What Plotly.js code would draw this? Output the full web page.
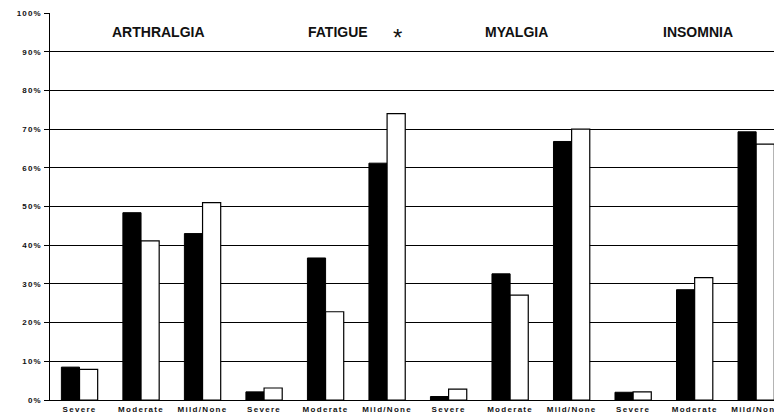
<!DOCTYPE html>
<html><head><meta charset="utf-8">
<script src="https://cdn.plot.ly/plotly-3.0.1.min.js"></script>
<style>html,body{margin:0;padding:0;background:#fff}#chart{width:774px;height:417px}
#chart .xtick text{letter-spacing:1.3px}
#chart .ytick text{letter-spacing:1.2px}
</style>
</head><body><div id="chart"></div>
<script>
const categories = ["Severe","Moderate","Mild/None","Severe","Moderate","Mild/None","Severe","Moderate","Mild/None","Severe","Moderate","Mild/None"];
const seriesBlack = [8.5, 48.4, 43.0, 2.1, 36.7, 61.2, 0.9, 32.6, 66.8, 2.0, 28.5, 69.3];
const seriesWhite = [7.9, 41.1, 51.0, 3.1, 22.8, 74.0, 2.8, 27.1, 70.0, 2.1, 31.6, 66.1];
const groupTitles = ["ARTHRALGIA","FATIGUE","MYALGIA","INSOMNIA"];
const yTickVals = [0,10,20,30,40,50,60,70,80,90,100];
const yTickText = ["0%","10%","20%","30%","40%","50%","60%","70%","80%","90%","100%"];

const xIdx = categories.map((c,i)=>i);
const fontFam = '"Liberation Sans", Arial, sans-serif';

const traces = [
  {type:'bar', x:xIdx, y:seriesBlack, name:'A',
   marker:{color:'#000', line:{color:'#000', width:1}}},
  {type:'bar', x:xIdx, y:seriesWhite, name:'B',
   marker:{color:'#fff', line:{color:'#000', width:1.2}}}
];

const titleX = [1.28, 4.2, 7.1, 10.05];
const annotations = groupTitles.map((t,i)=>({
  x:titleX[i], y:95.2, xref:'x', yref:'y', text:'<b>'+t+'</b>', showarrow:false,
  font:{family:fontFam, size:14, color:'#111'}
}));
annotations.push({x:5.17, y:93.6, xref:'x', yref:'y', text:'*', showarrow:false,
  font:{family:fontFam, size:24, color:'#111'}});

const layout = {
  width:774, height:417,
  margin:{l:50, r:0, t:13, b:17},
  paper_bgcolor:'#fff', plot_bgcolor:'#fff',
  showlegend:false,
  barmode:'group', bargap:0.41, bargroupgap:0,
  xaxis:{range:[-0.48, 11.29], tickvals:xIdx, ticktext:categories.map(c=>'<b>'+c+'</b>'),
    showgrid:false, zeroline:false, showline:true, linecolor:'#000', linewidth:1,
    ticks:'', ticklabeloverflow:'allow', ticklabelstandoff:1,
    tickfont:{family:fontFam, size:8, color:'#111'}, fixedrange:true},
  yaxis:{range:[0,100], tickvals:yTickVals, ticktext:yTickText.map(t=>'<b>'+t+'</b>'),
    showgrid:true, gridcolor:'#000', gridwidth:1, zeroline:false,
    showline:true, linecolor:'#000', linewidth:1.5, ticks:'outside', ticklen:5,
    tickcolor:'#000', tickfont:{family:fontFam, size:8, color:'#111'}},
  annotations:annotations
};
Plotly.newPlot('chart', traces, layout, {staticPlot:true, displayModeBar:false});
</script></body></html>
